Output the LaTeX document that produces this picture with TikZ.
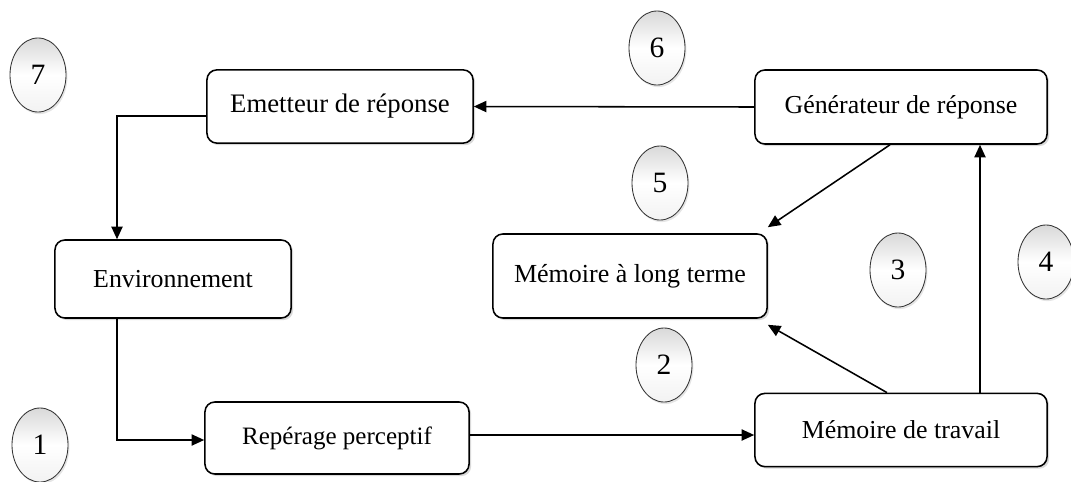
\documentclass[tikz,border=0pt]{standalone}
\usepackage{fontspec}
\setmainfont{Liberation Serif}
\usetikzlibrary{shapes.geometric,shadows,arrows.meta}
\begin{document}
\begin{tikzpicture}[x=0.025cm,y=-0.025cm,
  box/.style={draw, line width=1.1pt, rounded corners=7pt, fill=white, inner sep=0pt,
    font=\fontsize{18.4}{21}\selectfont,
    drop shadow={shadow xshift=1.5pt, shadow yshift=-1.5pt, fill=gray!50, opacity=0.6}},
  num/.style={ellipse, draw=black!80, line width=0.6pt, minimum width=1.4cm, minimum height=1.85cm,
    inner sep=0pt, top color=gray!30, bottom color=gray!10, middle color=white,
    font=\fontsize{21}{24}\selectfont,
    drop shadow={shadow xshift=1pt, shadow yshift=-1.5pt, fill=gray!40, opacity=0.5}},
  link/.style={line width=1.1pt, -{Triangle[length=9pt,width=8pt]}}
]
\useasboundingbox (0,0) rectangle (1071,481);

% process boxes
\node[box, minimum width=6.65cm, minimum height=1.83cm, font=\fontsize{19}{22}\selectfont] (emet) at (340,106.5) {Emetteur de réponse};
\node[box, minimum width=7.3cm, minimum height=1.85cm] (gen) at (901,107) {Générateur de réponse};
\node[box, minimum width=5.9cm, minimum height=1.95cm] (env) at (173,279) {Environnement};
\node[box, minimum width=6.85cm, minimum height=2.1cm, font=\fontsize{18.5}{21}\selectfont] (mlt) at (630,276) {Mémoire à long terme};
\node[box, minimum width=6.6cm, minimum height=1.8cm, font=\fontsize{17.8}{20}\selectfont] (rep) at (337,438) {Repérage perceptif};
\node[box, minimum width=7.3cm, minimum height=1.83cm] (mdt) at (901,430) {Mémoire de travail};

% step numbers
\node[num] (n7) at (38,75) {7};
\node[num] (n6) at (657,48) {6};
\node[num] (n5) at (660,183) {5};
\node[num] (n3) at (898,270) {3};
\node[num] (n4) at (1046,262) {4};
\node[num] (n2) at (664,365) {2};
\node[num] (n1) at (40,445) {1};

% connectors
\draw[link] (gen.west) -- (emet.east);
\coordinate (e1) at (emet.west |- 0,116);
\coordinate (e2) at (117,116);
\draw[link] (e1) -- (e2) -- (e2 |- env.north);
\coordinate (v1) at (117,440);
\draw[link] (v1 |- env.south) -- (v1) -- (v1 -| rep.west);
\coordinate (h1) at (0,435);
\draw[link] (h1 -| rep.east) -- (h1 -| mdt.west);
\coordinate (t1) at (887,0);
\coordinate (t2) at (980,0);
\draw[link] (t1 |- mdt.north) -- ([yshift=-0.15cm]mlt.south east);
\draw[link] (t2 |- mdt.north) -- (t2 |- gen.south);
\coordinate (g1) at (890,0);
\draw[link] (g1 |- gen.south) -- ([yshift=0.15cm]mlt.north east);
\end{tikzpicture}
\end{document}
